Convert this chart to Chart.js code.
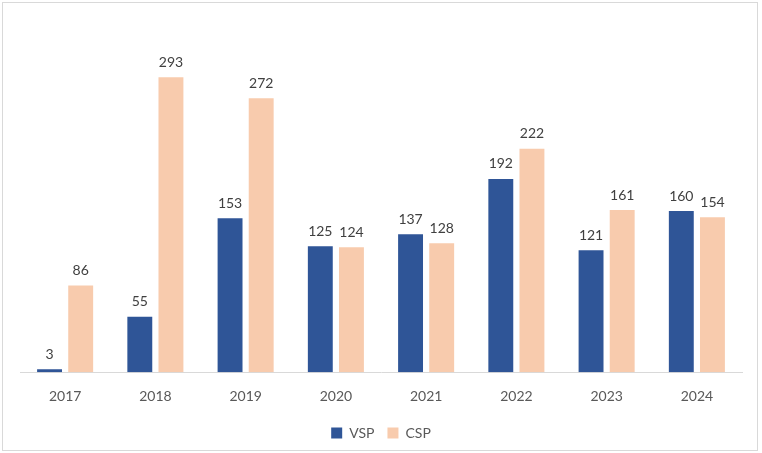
<!DOCTYPE html>
<html lang="en">
<head>
    <meta charset="UTF-8">
    <title>VSP vs CSP</title>
    <style>
        body {
            margin: 0;
            padding: 0;
            background: #ffffff;
        }

        #wrap {
            position: relative;
            width: 762px;
            height: 453px;
        }

        #frame {
            position: absolute;
            left: 2px;
            top: 2px;
            width: 754px;
            height: 447px;
            border: 1px solid #d9d9d9;
            pointer-events: none;
        }

        canvas {
            display: block;
        }
    </style>
</head>
<body>
<div id="wrap">
    <canvas id="bar-chart" width="762" height="453"></canvas>
    <div id="frame"></div>
</div>

<script src="https://cdn.jsdelivr.net/npm/chart.js"></script>
<script>
    var years = ['2017', '2018', '2019', '2020', '2021', '2022', '2023', '2024'];
    var vsp = [3, 55, 153, 125, 137, 192, 121, 160];
    var csp = [86, 293, 272, 124, 128, 222, 161, 154];

    // draw the value above each bar
    var valueLabels = {
        id: 'valueLabels',
        afterDatasetsDraw: function (chart) {
            var ctx = chart.ctx;
            ctx.save();
            ctx.font = '14px Lato, "Open Sans", sans-serif';
            ctx.fillStyle = '#404040';
            ctx.textAlign = 'center';
            ctx.textBaseline = 'bottom';
            chart.data.datasets.forEach(function (ds, i) {
                chart.getDatasetMeta(i).data.forEach(function (bar, j) {
                    ctx.fillText(ds.data[j], bar.x, bar.y - 8);
                });
            });
            ctx.restore();
        }
    };

    var ctx = document.getElementById('bar-chart').getContext('2d');
    var chart = new Chart(ctx, {
        type: 'bar',
        data: {
            labels: years,
            datasets: [{
                label: 'VSP',
                data: vsp,
                backgroundColor: '#2f5597'
            }, {
                label: 'CSP',
                data: csp,
                backgroundColor: '#f8cbad'
            }]
        },
        options: {
            responsive: false,
            animation: false,
            layout: {
                padding: {left: 20, right: 20, top: 50, bottom: 3}
            },
            datasets: {
                bar: {
                    categoryPercentage: 0.69,
                    barPercentage: 0.8
                }
            },
            scales: {
                x: {
                    grid: {display: false},
                    border: {color: '#d9d9d9'},
                    ticks: {
                        color: '#595959',
                        font: {family: 'Lato, "Open Sans", sans-serif', size: 14},
                        padding: 8
                    }
                },
                y: {
                    display: false,
                    min: 0,
                    max: 320
                }
            },
            plugins: {
                legend: {
                    position: 'bottom',
                    labels: {
                        boxWidth: 11,
                        boxHeight: 11,
                        color: '#595959',
                        font: {family: 'Lato, "Open Sans", sans-serif', size: 14},
                        padding: 13
                    }
                },
                tooltip: {enabled: false}
            }
        },
        plugins: [valueLabels]
    });
</script>
</body>
</html>
